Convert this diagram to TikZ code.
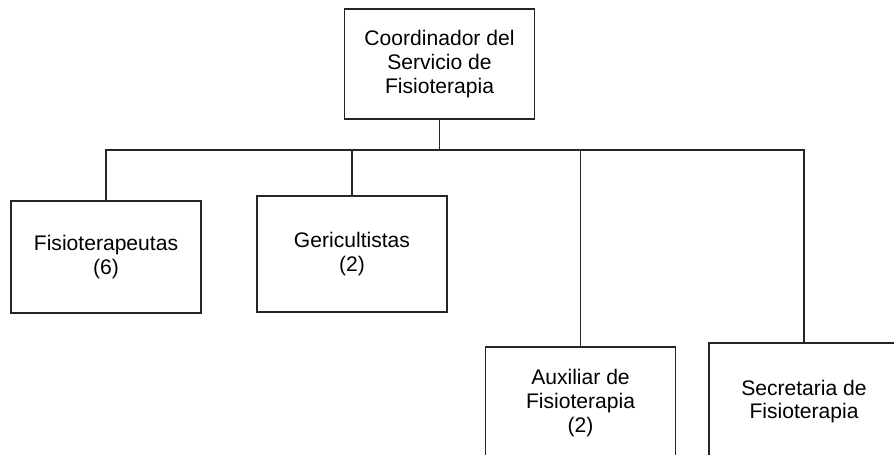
\documentclass[tikz,border=0pt]{standalone}
\usepackage{fontspec}
\setmainfont{Liberation Sans}
\usetikzlibrary{positioning}

\begin{document}
\begin{tikzpicture}[
    unit/.style={draw=black!85, line width=0.7pt, minimum width=3.8cm, minimum height=2.24cm, align=center, font=\fontsize{12}{13.6}\selectfont, inner sep=2pt},
    link/.style={draw=black!85, line width=0.7pt}
]
\useasboundingbox (0,0) rectangle (17.88,-9.08);
\clip (0,0) rectangle (17.88,-9.08);

\node[unit, minimum height=2.2cm] (coord) at (8.79,-1.28) {Coordinador del\\Servicio de\\Fisioterapia};
\node[unit] (fisio) at (2.12,-5.14) {Fisioterapeutas\\(6)};
\node[unit, minimum height=2.32cm] (geri) at (7.04,-5.08) {Gericultistas\\(2)};
\node[unit, minimum height=2.24cm] (aux) at (11.61,-8.06) {Auxiliar de\\Fisioterapia\\(2)};
\node[unit, minimum height=2.34cm] (secr) at (16.08,-8.03) {Secretaria de\\Fisioterapia};

% organigram bus
\coordinate (bus) at (0,-3.0);
\foreach \n in {fisio,geri,aux,secr}
  \draw[link] (coord.south) -- (coord.south |- bus) -| (\n.north);
\end{tikzpicture}
\end{document}
